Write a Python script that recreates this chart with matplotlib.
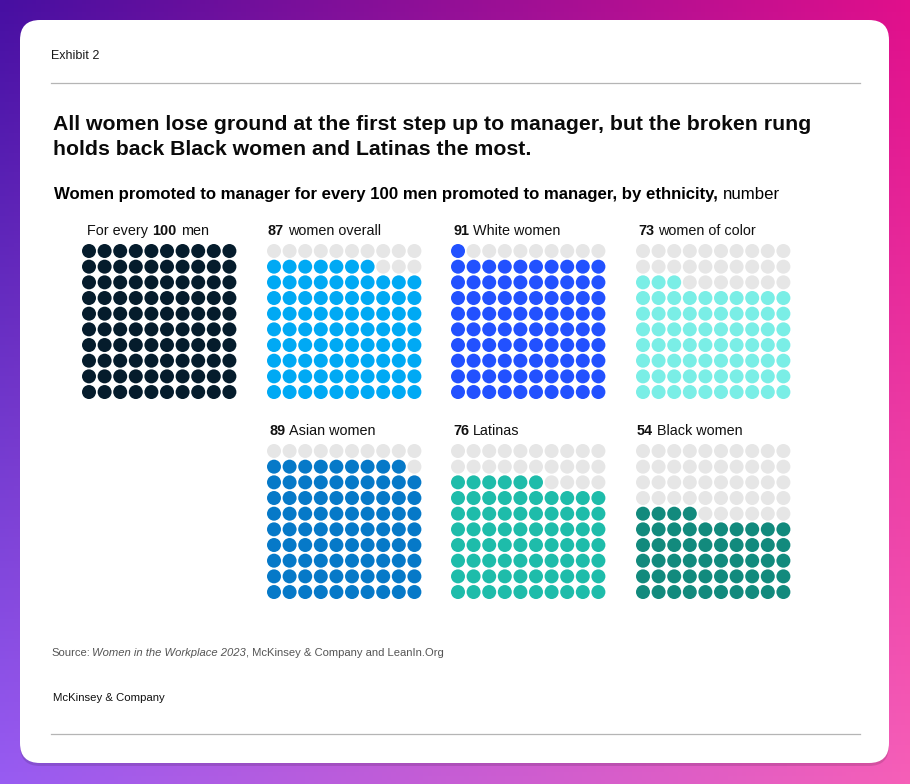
import numpy as np
import matplotlib
matplotlib.use('Agg')
import matplotlib.pyplot as plt
from matplotlib.patches import FancyBboxPatch
from matplotlib.colors import to_rgb

plt.rcParams['font.family'] = ['Liberation Sans', 'DejaVu Sans']

W, H = 910, 784

# data
values = [100, 87, 91, 73, 89, 76, 54]
label_pre = ['For every', '', '', '', '', '', '']
label_num = ['100', '87', '91', '73', '89', '76', '54']
label_post = ['men', 'women overall', 'White women', 'women of color',
              'Asian women', 'Latinas', 'Black women']
colors = ['#051c2c', '#00a9f4', '#2251ff', '#7aeee6',
          '#0679c8', '#1ebcaa', '#128a7d']
empty = '#e6e6e6'

# layout (pixels)
grid_x = [89, 274, 458, 643, 274, 458, 643]
grid_y = [251, 251, 251, 251, 451, 451, 451]
label_dx = [-2, -6, -5, -5, -5, -5, -6]
step_x, step_y = 15.6, 15.67
dot_px = 14

fig = plt.figure(figsize=(W / 100, H / 100), dpi=100)
bg = fig.add_axes([0, 0, 1, 1])
bg.set_xlim(0, W)
bg.set_ylim(H, 0)
bg.axis('off')

# gradient background
tl, tr = np.array(to_rgb('#470fa2')), np.array(to_rgb('#e10f8b'))
bl, br = np.array(to_rgb('#985cf2')), np.array(to_rgb('#f65fb8'))
u = np.linspace(0, 1, 200)[None, :, None]
v = np.linspace(0, 1, 200)[:, None, None]
img = (1 - v) * ((1 - u) * tl + u * tr) + v * ((1 - u) * bl + u * br)
bg.imshow(img, extent=(0, W, H, 0), aspect='auto', zorder=0)

shadow = FancyBboxPatch((20, 23), 869, 743, boxstyle='round,pad=0,rounding_size=20',
                        fc='black', ec='none', alpha=0.12, zorder=1)
bg.add_patch(shadow)
card = FancyBboxPatch((20, 20), 869, 743, boxstyle='round,pad=0,rounding_size=20',
                      fc='white', ec='none', zorder=2)
bg.add_patch(card)

renderer = fig.canvas.get_renderer()


def rich(x, y, parts, size, color='black'):
    # parts: (text, weight, style, gap_after_in_px)
    for s, w, st, gap in parts:
        t = bg.text(x, y, s, fontsize=size, fontweight=w, fontstyle=st,
                    color=color, va='center', ha='left', zorder=5)
        bb = t.get_window_extent(renderer)
        x += bb.width + gap


bg.text(51, 56, 'Exhibit 2', fontsize=9, va='center', color='#1a1a1a', zorder=5)
bg.plot([51, 860], [83, 83], color='#b5b5b5', lw=0.9, zorder=5)

bg.text(53, 124, 'All women lose ground at the first step up to manager, but the broken rung',
        fontsize=15.3, fontweight='bold', va='center', color='#0a0a0a', zorder=5)
bg.text(53, 149, 'holds back Black women and Latinas the most.',
        fontsize=15.3, fontweight='bold', va='center', color='#0a0a0a', zorder=5)

rich(54, 194, [('Women promoted to manager for every 100 men promoted to manager, by ethnicity,',
                'bold', 'normal', 5),
               ('number', 'normal', 'normal', 0)], 12.1)

for i in range(len(values)):
    gx, gy = grid_x[i], grid_y[i]
    # label
    parts = []
    if label_pre[i]:
        parts.append((label_pre[i], 'normal', 'normal', 4.5))
    parts.append((label_num[i], 'bold', 'normal', 4))
    parts.append((label_post[i], 'normal', 'normal', 0))
    rich(gx + label_dx[i], gy - 20.5, parts, 10.4, color='#111111')

    # waffle axes
    left = (gx - step_x / 2) / W
    top = (gy - step_y / 2) / H
    ax = fig.add_axes([left, 1 - top - 10 * step_y / H, 10 * step_x / W, 10 * step_y / H])
    ax.set_xlim(-0.5, 9.5)
    ax.set_ylim(-0.5, 9.5)
    ax.axis('off')
    k = np.arange(100)
    cols = k % 10
    rows = k // 10
    fill = [colors[i] if kk < values[i] else empty for kk in k]
    ax.scatter(cols, rows, s=(dot_px * 0.72) ** 2, c=fill, linewidths=0, zorder=3)

rich(51, 653, [('Source:', 'normal', 'normal', 2.5),
               ('Women in the Workplace 2023', 'normal', 'italic', 0),
               (', McKinsey & Company and LeanIn.Org', 'normal', 'normal', 0)],
     8.1, color='#555555')
bg.text(53, 698, 'McKinsey & Company', fontsize=8.2, va='center', color='#111111', zorder=5)
bg.plot([51, 860], [734, 734], color='#b5b5b5', lw=0.9, zorder=5)

fig.savefig('out.png', dpi=100)
